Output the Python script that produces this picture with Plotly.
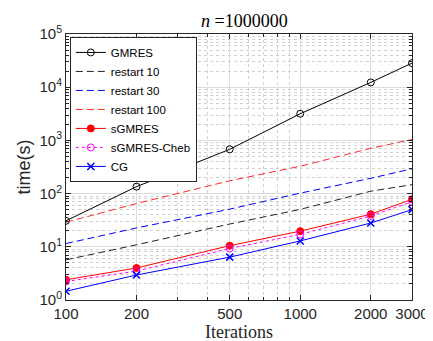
import plotly.graph_objects as go

iterations = [100, 200, 500, 1000, 2000, 3000]
gmres = [30.8, 135, 680, 3170, 12300, 28400]
restart10 = [5.7, 10.9, 26.8, 50.5, 111, 147]
restart30 = [11.5, 22.6, 51, 102, 194, 293]
restart100 = [29, 65, 174, 327, 710, 1040]
sgmres = [2.4, 4.0, 10.5, 19.7, 41, 78]
sgmres_cheb = [2.23, 3.5, 9.3, 17.1, 38, 70]
cg = [1.46, 2.95, 6.4, 12.9, 28, 50]

x_ticks = [100, 200, 500, 1000, 2000, 3000]
x_ticktext = ["100", "200", "500", "1000", "2000", "3000"]
x_minor = [300, 400, 600, 700, 800, 900]
y_ticks = [1, 10, 100, 1000, 10000, 100000]
y_ticktext = ["10<sup>%d</sup>" % i for i in range(6)]
y_minor = [m * 10 ** d for d in range(5) for m in range(2, 10)]

fig = go.Figure()

def add(name, y, color, dash="solid", symbol=None, msize=6, mfill=None, width=1):
    mode = "lines+markers" if symbol else "lines"
    marker = {}
    if symbol:
        marker = dict(symbol=symbol, size=msize, color=mfill if mfill else color,
                      line=dict(color=color, width=1))
    fig.add_trace(go.Scatter(x=iterations, y=y, name=name, mode=mode,
                             line=dict(color=color, dash=dash, width=width),
                             marker=marker))

add("GMRES", gmres, "black", symbol="circle-open", msize=7)
add("restart 10", restart10, "#222222", dash="7px,4px")
add("restart 30", restart30, "#0000ff", dash="7px,4px")
add("restart 100", restart100, "#ff2a2a", dash="7px,4px")
add("sGMRES", sgmres, "#ff0000", symbol="circle", msize=7)
add("sGMRES-Cheb", sgmres_cheb, "#ff00ff", dash="dot", symbol="circle-open", msize=7)
add("CG", cg, "#0000ff", symbol="x-thin-open", msize=7)
fig.data[-1].marker.line.width = 1.5

axis_common = dict(
    type="log", showline=True, linecolor="#262626", linewidth=1, mirror="ticks",
    ticks="inside", ticklen=5, tickcolor="#262626",
    showgrid=True, gridcolor="#dcdcdc", gridwidth=1, zeroline=False,
    tickfont=dict(family="Liberation Sans, Arial", size=15, color="#262626"),
)

fig.update_xaxes(
    **axis_common,
    range=[2, 3.4771],
    tickvals=x_ticks, ticktext=x_ticktext,
    minor=dict(tickvals=x_minor, ticks="inside", ticklen=3, tickcolor="#262626",
               showgrid=True, gridcolor="#d0d0d0", griddash="dot", gridwidth=1),
    title=dict(text="Iterations", font=dict(family="Liberation Serif, Times New Roman", size=18, color="#262626"),
               standoff=2),
)
fig.update_yaxes(
    **axis_common,
    range=[0, 5],
    tickvals=y_ticks, ticktext=y_ticktext,
    minor=dict(tickvals=y_minor, ticks="inside", ticklen=3, tickcolor="#262626",
               showgrid=True, gridcolor="#d0d0d0", griddash="dot", gridwidth=1),
    title=dict(text="time(s)", font=dict(family="Liberation Sans, Arial", size=18, color="#262626"),
               standoff=4),
)

fig.update_layout(
    width=433, height=341,
    margin=dict(l=58, r=18, t=26, b=42),
    paper_bgcolor="white", plot_bgcolor="white",
    title=dict(text="<i>n</i> =1000000", x=0.546, xanchor="center", y=0.962, yanchor="middle",
               font=dict(family="Liberation Serif, Times New Roman", size=18, color="black")),
    legend=dict(x=0.011, y=0.989, xanchor="left", yanchor="top",
                bgcolor="white", bordercolor="#262626", borderwidth=1,
                font=dict(family="Liberation Sans, Arial", size=11.5, color="black"),
                tracegroupgap=0, itemwidth=30),
    showlegend=True,
)

fig.write_html("out.html")
